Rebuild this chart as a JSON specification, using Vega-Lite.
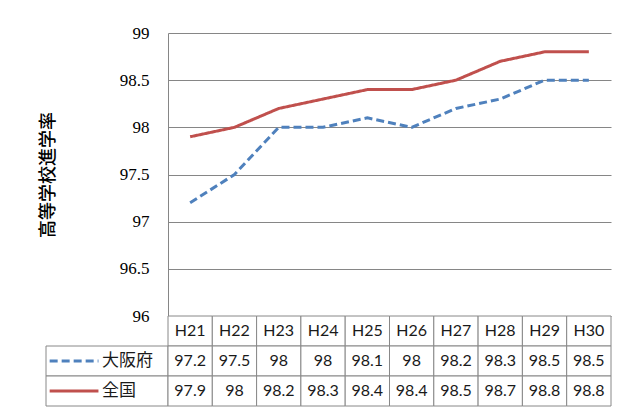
{
  "$schema": "https://vega.github.io/schema/vega-lite/v6.json",
  "padding": {"left": 39, "top": 24, "right": 5, "bottom": 0},
  "background": "white",
  "columns": 2,
  "spacing": 0,
  "bounds": "flush",
  "config": {
    "view": {"stroke": null},
    "text": {"color": "#1a1a1a"},
    "axis": {"labelFont": "Liberation Serif, DejaVu Serif, serif"}
  },
  "datasets": {
    "rates": [
      {"year": "H21", "series": "大阪府", "value": 97.2},
      {"year": "H22", "series": "大阪府", "value": 97.5},
      {"year": "H23", "series": "大阪府", "value": 98},
      {"year": "H24", "series": "大阪府", "value": 98},
      {"year": "H25", "series": "大阪府", "value": 98.1},
      {"year": "H26", "series": "大阪府", "value": 98},
      {"year": "H27", "series": "大阪府", "value": 98.2},
      {"year": "H28", "series": "大阪府", "value": 98.3},
      {"year": "H29", "series": "大阪府", "value": 98.5},
      {"year": "H30", "series": "大阪府", "value": 98.5},
      {"year": "H21", "series": "全国", "value": 97.9},
      {"year": "H22", "series": "全国", "value": 98},
      {"year": "H23", "series": "全国", "value": 98.2},
      {"year": "H24", "series": "全国", "value": 98.3},
      {"year": "H25", "series": "全国", "value": 98.4},
      {"year": "H26", "series": "全国", "value": 98.4},
      {"year": "H27", "series": "全国", "value": 98.5},
      {"year": "H28", "series": "全国", "value": 98.7},
      {"year": "H29", "series": "全国", "value": 98.8},
      {"year": "H30", "series": "全国", "value": 98.8}
    ],
    "years": [
      {"year": "H21"}, {"year": "H22"}, {"year": "H23"}, {"year": "H24"}, {"year": "H25"},
      {"year": "H26"}, {"year": "H27"}, {"year": "H28"}, {"year": "H29"}, {"year": "H30"}
    ],
    "series": [
      {"series": "大阪府"}, {"series": "全国"}
    ]
  },
  "concat": [
    {
      "width": 122,
      "height": 283,
      "data": {"values": [{}]},
      "mark": {"type": "text"},
      "encoding": {}
    },
    {
      "width": 443,
      "height": 283,
      "data": {"name": "rates"},
      "mark": {"type": "line", "strokeWidth": 3},
      "encoding": {
        "x": {"field": "year", "type": "ordinal", "scale": {"type": "point", "padding": 0.5}, "axis": null},
        "y": {
          "field": "value", "type": "quantitative",
          "scale": {"domain": [96, 99], "nice": false, "zero": false},
          "axis": {
            "values": [96, 96.5, 97, 97.5, 98, 98.5, 99],
            "format": ".1~f",
            "title": "高等学校進学率",
            "titleFont": "Noto Sans CJK JP",
            "titleFontSize": 18,
            "titleFontWeight": 500,
            "titleColor": "#000",
            "titlePadding": 62,
            "labelFont": "Liberation Serif, DejaVu Serif, serif",
            "labelFontSize": 17,
            "labelColor": "#000",
            "labelPadding": 19,
            "ticks": false,
            "domainColor": "#868686",
            "gridColor": "#868686",
            "gridOpacity": 1
          }
        },
        "color": {
          "field": "series", "type": "nominal",
          "scale": {"domain": ["大阪府", "全国"], "range": ["#4F81BD", "#C0504D"]},
          "legend": null
        },
        "strokeDash": {
          "field": "series", "type": "nominal",
          "scale": {"domain": ["大阪府", "全国"], "range": [[8, 4], [1, 0]]},
          "legend": null
        }
      }
    },
    {
      "width": 122,
      "height": 90,
      "data": {"name": "series"},
      "encoding": {
        "y": {
          "field": "series", "type": "nominal",
          "scale": {"domain": ["header", "大阪府", "全国"], "paddingInner": 0, "paddingOuter": 0},
          "axis": null
        }
      },
      "layer": [
        {
          "mark": {"type": "rect", "fill": "white", "stroke": "#888", "strokeWidth": 1},
          "encoding": {
            "x": {"datum": 0, "type": "quantitative", "scale": {"domain": [0, 1]}, "axis": null},
            "x2": {"datum": 1}
          }
        },
        {
          "mark": {"type": "rule", "strokeWidth": 3},
          "encoding": {
            "x": {"datum": 0.03, "type": "quantitative", "scale": {"domain": [0, 1]}, "axis": null},
            "x2": {"datum": 0.43},
            "color": {
              "field": "series", "type": "nominal",
              "scale": {"domain": ["大阪府", "全国"], "range": ["#4F81BD", "#C0504D"]},
              "legend": null
            },
            "strokeDash": {
              "field": "series", "type": "nominal",
              "scale": {"domain": ["大阪府", "全国"], "range": [[8, 4], [1, 0]]},
              "legend": null
            }
          }
        },
        {
          "mark": {"type": "text", "align": "left", "baseline": "middle", "font": "Noto Sans CJK JP", "fontSize": 17},
          "encoding": {
            "x": {"datum": 0.46, "type": "quantitative", "scale": {"domain": [0, 1]}, "axis": null},
            "text": {"field": "series"}
          }
        }
      ]
    },
    {
      "width": 443,
      "height": 90,
      "encoding": {
        "x": {"field": "year", "type": "ordinal", "scale": {"type": "band", "paddingInner": 0, "paddingOuter": 0}, "axis": null}
      },
      "layer": [
        {
          "data": {"name": "years"},
          "mark": {"type": "rect", "fill": "white", "stroke": "#888", "strokeWidth": 1},
          "encoding": {
            "y": {"datum": "header", "type": "nominal", "scale": {"domain": ["header", "大阪府", "全国"], "paddingInner": 0, "paddingOuter": 0}, "axis": null}
          }
        },
        {
          "data": {"name": "rates"},
          "mark": {"type": "rect", "fill": "white", "stroke": "#888", "strokeWidth": 1},
          "encoding": {
            "y": {"field": "series", "type": "nominal", "axis": null}
          }
        },
        {
          "data": {"name": "years"},
          "mark": {"type": "text", "font": "Lato", "fontSize": 16, "baseline": "middle"},
          "encoding": {
            "y": {"datum": "header", "type": "nominal", "axis": null},
            "text": {"field": "year"}
          }
        },
        {
          "data": {"name": "rates"},
          "mark": {"type": "text", "font": "Lato", "fontSize": 16, "baseline": "middle"},
          "encoding": {
            "y": {"field": "series", "type": "nominal", "axis": null},
            "text": {"field": "value", "type": "quantitative"}
          }
        }
      ]
    }
  ]
}
